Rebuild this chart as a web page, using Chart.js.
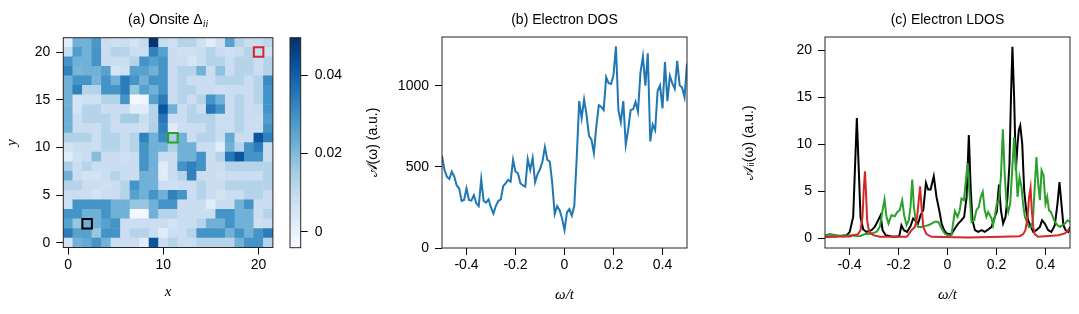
<!DOCTYPE html>
<html lang="pt-BR">
<head>
<meta charset="utf-8">
<title>Onsite, DOS e LDOS</title>
<script src="https://cdn.jsdelivr.net/npm/chart.js@4.4.1/dist/chart.umd.min.js"></script>
<style>
    html, body { margin: 0; padding: 0; background: #fff; }
    #painel { position: relative; width: 1079px; height: 314px; overflow: hidden; }
    #painel canvas { position: absolute; top: 0; }
</style>
</head>
<body>
<div id="painel">
    <canvas id="graficoMapa" width="285" height="314" style="left:0px"></canvas>
    <canvas id="graficoBarra" width="80" height="314" style="left:285px"></canvas>
    <canvas id="graficoDos" width="345" height="314" style="left:355px"></canvas>
    <canvas id="graficoLdos" width="344" height="314" style="left:735px"></canvas>
</div>
<script>
// (a) onsite values, one row per y, from y = 21 (top) down to y = 0
var onsiteLinhas = [
    [0.002, 0.022, 0.022, 0.028, 0.008, 0.007, 0.008, 0.006, 0.009, 0.049, 0.009, 0.007, 0.012, 0.012, 0.007, 0.002, 0.007, 0.026, 0.012, 0.008, 0.009, 0.011],
    [0.009, 0.027, 0.022, 0.029, 0.008, 0.012, 0.012, 0.008, 0.008, 0.033, 0.026, 0.008, 0.007, 0.007, 0.008, 0.012, 0.008, 0.007, 0.008, 0.012, 0.009, 0.007],
    [0.029, 0.022, 0.022, 0.029, 0.008, 0.008, 0.008, 0.012, 0.029, 0.026, 0.029, 0.008, 0.008, 0.005, 0.008, 0.012, 0.012, 0.008, 0.012, 0.012, 0.008, 0.012],
    [0.033, 0.021, 0.022, 0.022, 0.026, 0.005, 0.007, 0.026, 0.026, 0.022, 0.029, 0.008, 0.012, 0.012, 0.022, 0.008, 0.018, 0.008, 0.012, 0.012, 0.008, 0.012],
    [0.022, 0.029, 0.029, 0.021, 0.029, 0.022, 0.034, 0.029, 0.022, 0.029, 0.029, 0.008, 0.012, 0.008, 0.008, 0.008, 0.012, 0.012, 0.012, 0.008, 0.012, 0.031],
    [0.022, 0.033, 0.012, 0.012, 0.029, 0.029, 0.034, 0.017, 0.026, 0.022, 0.029, 0.008, 0.012, 0.012, 0.008, 0.008, 0.007, 0.008, 0.008, 0.008, 0.012, 0.029],
    [0.022, 0.006, 0.007, 0.007, 0.012, 0.012, 0.029, -0.003, -0.002, 0.026, 0.034, 0.008, 0.012, 0.008, 0.012, 0.029, 0.022, 0.008, 0.012, 0.008, 0.012, 0.029],
    [0.022, 0.006, 0.012, 0.012, 0.008, 0.008, 0.008, 0.002, 0.002, 0.012, 0.042, 0.022, 0.008, 0.012, 0.008, 0.035, 0.029, 0.008, 0.012, 0.008, 0.009, 0.029],
    [0.022, 0.008, 0.012, 0.012, 0.012, 0.008, 0.015, 0.015, 0.008, 0.012, 0.035, 0.008, 0.008, 0.012, 0.012, 0.012, 0.008, 0.008, 0.012, 0.008, 0.008, 0.027],
    [0.022, 0.008, 0.008, 0.008, 0.012, 0.008, 0.008, 0.008, 0.007, 0.013, 0.033, 0.002, 0.008, 0.008, 0.008, 0.012, 0.008, 0.008, 0.012, 0.008, 0.008, 0.029],
    [0.013, 0.013, 0.013, 0.008, 0.012, 0.012, 0.008, 0.012, 0.033, 0.022, 0.031, 0.014, 0.022, 0.008, 0.012, 0.012, 0.008, 0.024, 0.008, 0.008, 0.042, 0.033],
    [0.006, 0.008, 0.008, 0.008, 0.012, 0.012, 0.008, 0.012, 0.029, 0.022, 0.022, 0.013, 0.022, 0.022, 0.008, 0.008, 0.002, 0.022, 0.012, 0.029, 0.034, 0.008],
    [0.002, 0.007, 0.008, 0.019, 0.008, 0.008, 0.007, 0.008, 0.029, 0.022, 0.008, 0.008, 0.022, 0.022, 0.029, 0.008, 0.012, 0.035, 0.042, 0.029, 0.029, 0.008],
    [0.014, 0.008, 0.012, 0.008, 0.008, 0.008, 0.008, 0.008, 0.029, 0.022, 0.002, 0.008, 0.029, 0.033, 0.029, 0.008, 0.008, 0.012, 0.012, 0.012, 0.012, 0.012],
    [0.022, 0.008, 0.006, 0.006, 0.008, 0.012, 0.008, 0.008, 0.022, 0.022, 0.002, 0.008, 0.012, 0.033, 0.008, 0.008, 0.007, 0.008, 0.008, 0.008, 0.008, 0.012],
    [0.012, 0.012, 0.008, 0.008, 0.007, 0.008, 0.012, 0.029, 0.022, 0.022, 0.008, 0.007, 0.008, 0.008, 0.012, 0.008, 0.008, 0.012, 0.012, 0.012, 0.012, 0.012],
    [0.008, 0.008, 0.008, 0.006, 0.008, 0.008, 0.012, 0.026, 0.022, 0.029, 0.022, 0.033, 0.029, 0.008, 0.012, 0.008, 0.006, 0.008, 0.008, 0.012, 0.012, 0.008],
    [0.007, 0.029, 0.029, 0.029, 0.029, 0.022, 0.022, 0.017, 0.017, 0.022, 0.029, 0.029, 0.008, 0.008, 0.008, 0.002, 0.008, 0.008, 0.022, 0.029, 0.008, 0.008],
    [0.029, 0.029, 0.022, 0.022, 0.029, 0.022, 0.022, -0.003, -0.003, 0.022, 0.012, 0.012, 0.008, 0.008, 0.008, 0.008, 0.029, 0.029, 0.022, 0.022, 0.008, 0.012],
    [0.026, 0.017, 0.022, 0.022, 0.026, 0.029, 0.008, 0.008, 0.008, 0.008, 0.008, 0.006, 0.008, 0.008, 0.012, 0.022, 0.022, 0.029, 0.022, 0.022, 0.007, 0.008],
    [0.034, 0.026, 0.026, 0.017, 0.029, 0.029, 0.008, 0.012, 0.012, 0.008, 0.002, 0.008, 0.008, 0.012, 0.029, 0.029, 0.029, 0.022, 0.029, 0.022, 0.029, 0.034],
    [0.006, 0.022, 0.024, 0.029, 0.022, 0.008, 0.008, 0.008, 0.002, 0.042, 0.008, 0.012, 0.008, 0.008, 0.012, 0.012, 0.012, 0.012, 0.022, 0.029, 0.029, 0.012]
];
var sitiosX = [2, 11, 20];
var sitiosY = [2, 11, 20];
var coresSitios = ['#000000', '#2ca02c', '#d62728'];
var ticksMapaX = [0, 10, 20];
var ticksMapaY = [0, 5, 10, 15, 20];
var ticksBarra = [0, 0.02, 0.04];
var limitesCor = [-0.0041, 0.0497];
var coresBlues = ['#f7fbff', '#deebf7', '#c6dbef', '#9ecae1', '#6baed6', '#4292c6', '#2171b5', '#08519c', '#08306b'];

// (b) DOS
var omegaDos = [
    -0.50, -0.49, -0.48, -0.47, -0.46, -0.45, -0.44, -0.43, -0.42, -0.41,
    -0.40, -0.39, -0.38, -0.37, -0.36, -0.35, -0.34, -0.33, -0.32, -0.31,
    -0.30, -0.29, -0.28, -0.27, -0.26, -0.25, -0.24, -0.23, -0.22, -0.21,
    -0.20, -0.19, -0.18, -0.17, -0.16, -0.15, -0.14, -0.13, -0.12, -0.11,
    -0.10, -0.09, -0.08, -0.07, -0.06, -0.05, -0.04, -0.03, -0.02, -0.01,
    0.00, 0.01, 0.02, 0.03, 0.04, 0.05, 0.06, 0.07, 0.08, 0.09,
    0.10, 0.11, 0.12, 0.13, 0.14, 0.15, 0.16, 0.17, 0.18, 0.19,
    0.20, 0.21, 0.22, 0.23, 0.24, 0.25, 0.26, 0.27, 0.28, 0.29,
    0.30, 0.31, 0.32, 0.33, 0.34, 0.35, 0.36, 0.37, 0.38, 0.39,
    0.40, 0.41, 0.42, 0.43, 0.44, 0.45, 0.46, 0.47, 0.48, 0.49,
    0.50
];
var valoresDos = [
    568, 481, 440, 425, 470, 440, 385, 368, 290, 296,
    368, 296, 292, 326, 275, 258, 424, 290, 280, 300,
    250, 212, 260, 290, 300, 382, 399, 420, 409, 543,
    470, 461, 399, 385, 378, 548, 481, 555, 405, 455,
    485, 533, 622, 543, 533, 400, 209, 258, 233, 183,
    110, 220, 240, 200, 260, 560, 905, 800, 915, 820,
    690, 667, 585, 750, 880, 870, 850, 1053, 1015, 1010,
    1065, 1242, 850, 775, 905, 636, 729, 850, 855, 900,
    840, 1080, 1180, 1000, 1200, 657, 760, 725, 967, 1002,
    860, 1146, 905, 1060, 1014, 981, 1153, 1002, 988, 930,
    1137
];
var ticksOmega = [-0.4, -0.2, 0, 0.2, 0.4];
var ticksDos = [0, 500, 1000];

// (c) LDOS nos tres sitios marcados
var omegaPreto = [
    -0.5, -0.453, -0.412, -0.399, -0.385, -0.378, -0.370, -0.362, -0.355, -0.344,
    -0.331, -0.310, -0.297, -0.283, -0.273, -0.265, -0.252, -0.222, -0.197, -0.188,
    -0.178, -0.165, -0.151, -0.140, -0.129, -0.120, -0.110, -0.099, -0.088, -0.079,
    -0.069, -0.056, -0.045, -0.031, -0.024, -0.014, -0.004, 0.016, 0.030, 0.044,
    0.057, 0.068, 0.078, 0.087, 0.095, 0.102, 0.112, 0.125, 0.139, 0.152,
    0.166, 0.180, 0.193, 0.201, 0.210, 0.218, 0.227, 0.237, 0.245, 0.253,
    0.259, 0.265, 0.272, 0.279, 0.286, 0.291, 0.297, 0.305, 0.313, 0.321,
    0.329, 0.340, 0.350, 0.363, 0.377, 0.386, 0.397, 0.411, 0.424, 0.438,
    0.449, 0.457, 0.465, 0.473, 0.482, 0.493, 0.5
];
var ldosPreto = [
    0.14, 0.2, 0.3, 0.67, 2.27, 7.2, 12.8, 7.2, 2.27, 0.92,
    0.67, 0.85, 1.2, 1.9, 2.45, 0.85, 0.3, 0.14, 0.2, 1.38,
    0.85, 0.67, 1.28, 2.09, 1.84, 1.56, 2.45, 2.98, 5.89, 5.18,
    5.18, 6.6, 4.4, 2.62, 1.56, 0.85, 0.5, 0.43, 1.03, 1.56,
    1.91, 2.27, 4.4, 11.0, 5.1, 1.91, 0.85, 0.67, 0.85, 0.67,
    0.92, 1.2, 2.27, 2.8, 5.7, 2.98, 1.56, 2.27, 4.4, 7.94,
    15.0, 20.4, 15.0, 7.23, 10.07, 11.5, 12.0, 10.07, 5.1, 2.98,
    1.91, 1.2, 0.67, 0.85, 1.2, 1.91, 1.56, 0.85, 0.67, 1.38,
    3.69, 5.99, 3.69, 1.38, 0.85, 0.67, 1.2
];
var omegaVerde = [
    -0.5, -0.480, -0.453, -0.426, -0.399, -0.358, -0.337, -0.317, -0.290, -0.276,
    -0.265, -0.257, -0.249, -0.241, -0.229, -0.215, -0.205, -0.195, -0.185, -0.177,
    -0.167, -0.158, -0.151, -0.144, -0.137, -0.129, -0.120, -0.106, -0.093, -0.079,
    -0.065, -0.052, -0.038, -0.031, -0.024, -0.011, 0.003, 0.016, 0.030, 0.041,
    0.050, 0.057, 0.067, 0.075, 0.082, 0.090, 0.098, 0.109, 0.118, 0.128,
    0.136, 0.144, 0.152, 0.159, 0.166, 0.173, 0.180, 0.186, 0.193, 0.201,
    0.210, 0.218, 0.226, 0.234, 0.241, 0.248, 0.256, 0.264, 0.272, 0.279,
    0.286, 0.294, 0.302, 0.309, 0.316, 0.324, 0.332, 0.340, 0.348, 0.356,
    0.363, 0.370, 0.377, 0.384, 0.392, 0.400, 0.407, 0.414, 0.422, 0.430,
    0.438, 0.449, 0.459, 0.468, 0.479, 0.490, 0.5
];
var ldosVerde = [
    0.32, 0.43, 0.32, 0.21, 0.32, 0.21, 0.43, 0.43, 0.67, 1.2,
    2.98, 4.11, 2.27, 1.56, 2.45, 2.34, 2.8, 2.98, 4.04, 2.45,
    1.38, 1.91, 3.33, 6.24, 3.33, 1.74, 1.2, 1.2, 1.28, 1.38,
    1.56, 1.74, 1.74, 1.4, 1.03, 0.5, 0.25, 0.32, 2.87, 2.27,
    2.98, 4.22, 4.04, 6.17, 8.01, 4.75, 1.74, 1.91, 2.98, 3.33,
    4.4, 4.93, 2.98, 2.27, 2.8, 2.45, 2.09, 1.38, 2.27, 3.69,
    4.04, 6.52, 11.6, 6.52, 3.69, 2.8, 3.69, 7.23, 10.78, 7.94,
    4.4, 6.52, 5.46, 3.51, 2.27, 1.74, 1.2, 1.2, 1.74, 5.46,
    8.65, 5.82, 4.04, 7.23, 6.7, 3.69, 4.4, 2.98, 2.8, 2.27,
    1.74, 1.38, 1.2, 1.38, 1.56, 1.91, 1.74
];
var omegaVermelho = [
    -0.5, -0.399, -0.385, -0.365, -0.355, -0.347, -0.342, -0.337, -0.333, -0.328,
    -0.320, -0.303, -0.276, -0.167, -0.161, -0.147, -0.133, -0.124, -0.116, -0.112,
    -0.106, -0.099, -0.086, -0.065, 0.084, 0.220, 0.295, 0.309, 0.318, 0.327,
    0.333, 0.339, 0.344, 0.350, 0.356, 0.370, 0.452, 0.479, 0.5
];
var ldosVermelho = [
    0.14, 0.18, 0.32, 0.43, 0.85, 2.27, 5.1, 7.13, 5.1, 1.91,
    0.67, 0.32, 0.14, 0.14, 0.32, 0.85, 1.2, 2.27, 4.4, 5.53,
    3.33, 1.2, 0.43, 0.14, 0.07, 0.14, 0.21, 0.43, 0.85, 2.27,
    4.4, 5.39, 2.98, 1.2, 0.43, 0.14, 0.32, 0.5, 1.03
];
var ticksLdos = [0, 5, 10, 15, 20];

Chart.defaults.font.family = '"Liberation Sans", Arial, sans-serif';
Chart.defaults.font.size = 14;
Chart.defaults.color = '#000';

function corBlues(v) {
    var t = (v - limitesCor[0]) / (limitesCor[1] - limitesCor[0]);
    t = Math.min(1, Math.max(0, t)) * (coresBlues.length - 1);
    var i = Math.min(coresBlues.length - 2, Math.floor(t));
    var f = t - i;
    var a = hexParaRgb(coresBlues[i]), b = hexParaRgb(coresBlues[i + 1]);
    return 'rgb(' + Math.round(a[0] + (b[0] - a[0]) * f) + ',' +
        Math.round(a[1] + (b[1] - a[1]) * f) + ',' +
        Math.round(a[2] + (b[2] - a[2]) * f) + ')';
}

function hexParaRgb(h) {
    return [parseInt(h.substr(1, 2), 16), parseInt(h.substr(3, 2), 16), parseInt(h.substr(5, 2), 16)];
}

function pares(xs, ys) {
    return xs.map(function(x, i) { return { x: x, y: ys[i] }; });
}

function fixarTicks(valores) {
    return function(eixo) {
        eixo.ticks = valores.map(function(v) { return { value: v }; });
    };
}

function formatoOmega(v) {
    return v === 0 ? '0' : v.toFixed(1);
}

function formatoSimples(v) {
    return String(v);
}

function ladoCelula(ctx) {
    var s = ctx.chart.scales.x;
    return Math.abs(s.getPixelForValue(1) - s.getPixelForValue(0));
}

var pluginMoldura = {
    id: 'moldura',
    afterDraw: function(chart) {
        var a = chart.chartArea, ctx = chart.ctx;
        ctx.save();
        ctx.strokeStyle = '#262626';
        ctx.lineWidth = 1;
        ctx.strokeRect(a.left, a.top, a.right - a.left, a.bottom - a.top);
        ctx.restore();
    }
};

var pluginTitulo = {
    id: 'tituloPainel',
    afterDraw: function(chart, args, opcoes) {
        if (!opcoes.partes) return;
        var ctx = chart.ctx, a = chart.chartArea;
        var larguras = [], total = 0;
        ctx.save();
        opcoes.partes.forEach(function(p) {
            ctx.font = p.fonte;
            var w = ctx.measureText(p.texto).width;
            larguras.push(w);
            total += w;
        });
        var x = (a.left + a.right) / 2 - total / 2;
        ctx.fillStyle = '#000';
        ctx.textBaseline = 'alphabetic';
        opcoes.partes.forEach(function(p, i) {
            ctx.font = p.fonte;
            ctx.fillText(p.texto, x, opcoes.y + (p.dy || 0));
            x += larguras[i];
        });
        ctx.restore();
    }
};

Chart.register(pluginMoldura, pluginTitulo);

var gradeEixo = { drawOnChartArea: false, drawTicks: true, tickLength: 7, color: '#000', lineWidth: 1 };
var fonteTitulo = '14px "Liberation Sans", Arial, sans-serif';
var fonteMath = { family: '"Liberation Serif", serif', size: 15, style: 'italic' };

document.addEventListener('DOMContentLoaded', function() {
    // (a) mapa onsite
    var celulas = [];
    onsiteLinhas.forEach(function(linha, r) {
        var y = onsiteLinhas.length - 1 - r;
        linha.forEach(function(v, x) { celulas.push({ x: x, y: y, v: v }); });
    });

    new Chart(document.getElementById('graficoMapa'), {
        type: 'scatter',
        data: {
            datasets: [{
                data: pares(sitiosX, sitiosY),
                pointStyle: 'rect',
                backgroundColor: 'rgba(0,0,0,0)',
                borderColor: coresSitios,
                borderWidth: 2,
                pointRadius: function(ctx) { return ladoCelula(ctx) / Math.SQRT2; },
                order: 0
            }, {
                data: celulas,
                pointStyle: 'rect',
                borderWidth: 0,
                backgroundColor: function(ctx) { return corBlues(ctx.raw.v); },
                pointRadius: function(ctx) { return (ladoCelula(ctx) + 0.6) / Math.SQRT2; },
                clip: 0,
                order: 1
            }]
        },
        options: {
            responsive: false,
            animation: false,
            events: [],
            layout: { padding: { left: 0, right: 12.1, top: 37.7, bottom: 0 } },
            plugins: {
                legend: { display: false },
                tooltip: { enabled: false },
                tituloPainel: {
                    y: 24,
                    partes: [
                        { texto: '(a) Onsite Δ', fonte: fonteTitulo },
                        { texto: 'ii', fonte: 'italic 10px "Liberation Serif", serif', dy: 3 }
                    ]
                }
            },
            scales: {
                x: {
                    type: 'linear', min: -0.5, max: 21.5,
                    afterBuildTicks: fixarTicks(ticksMapaX),
                    afterFit: function(s) { s.height = 66.5; },
                    grid: gradeEixo,
                    border: { display: false },
                    ticks: { padding: 2, maxRotation: 0 },
                    title: { display: true, text: 'x', font: fonteMath, padding: { top: 0, bottom: 13 } }
                },
                y: {
                    type: 'linear', min: -0.5, max: 21.5,
                    afterBuildTicks: fixarTicks(ticksMapaY),
                    afterFit: function(s) { s.width = 63.3; },
                    grid: gradeEixo,
                    border: { display: false },
                    ticks: { padding: 6 },
                    title: { display: true, text: 'y', font: fonteMath, padding: { top: 3, bottom: 0 } }
                }
            }
        }
    });

    // barra de cores
    new Chart(document.getElementById('graficoBarra'), {
        type: 'bar',
        data: {
            labels: [''],
            datasets: [{
                data: [limitesCor],
                barPercentage: 1,
                categoryPercentage: 1,
                borderWidth: 0,
                backgroundColor: function(ctx) {
                    var area = ctx.chart.chartArea;
                    if (!area) return coresBlues[4];
                    var g = ctx.chart.ctx.createLinearGradient(0, area.bottom, 0, area.top);
                    coresBlues.forEach(function(c, i) { g.addColorStop(i / (coresBlues.length - 1), c); });
                    return g;
                }
            }]
        },
        options: {
            responsive: false,
            animation: false,
            events: [],
            layout: { padding: { left: 5, right: 0, top: 37.7, bottom: 66.3 } },
            plugins: { legend: { display: false }, tooltip: { enabled: false } },
            scales: {
                x: { display: false },
                y: {
                    position: 'right',
                    min: limitesCor[0], max: limitesCor[1],
                    afterBuildTicks: fixarTicks(ticksBarra),
                    afterFit: function(s) { s.width = 64.3; },
                    grid: gradeEixo,
                    border: { display: false },
                    ticks: {
                        padding: 7,
                        callback: function(v) { return v === 0 ? '0' : v.toFixed(2); }
                    }
                }
            }
        }
    });

    // (b) DOS
    new Chart(document.getElementById('graficoDos'), {
        type: 'line',
        data: {
            datasets: [{
                data: pares(omegaDos, valoresDos),
                borderColor: '#1f77b4',
                borderWidth: 2,
                pointRadius: 0,
                tension: 0,
                fill: false
            }]
        },
        options: {
            responsive: false,
            animation: false,
            events: [],
            layout: { padding: { left: 0, right: 13, top: 37, bottom: 0 } },
            plugins: {
                legend: { display: false },
                tooltip: { enabled: false },
                tituloPainel: { y: 24, partes: [{ texto: '(b) Electron DOS', fonte: fonteTitulo }] }
            },
            scales: {
                x: {
                    type: 'linear', min: -0.5, max: 0.5,
                    afterBuildTicks: fixarTicks(ticksOmega),
                    afterFit: function(s) { s.height = 66; },
                    grid: gradeEixo,
                    border: { display: false },
                    ticks: { padding: 2, maxRotation: 0, callback: formatoOmega },
                    title: { display: true, text: 'ω/t', font: fonteMath, padding: { top: 0, bottom: 10 } }
                },
                y: {
                    type: 'linear', min: 0, max: 1300,
                    afterBuildTicks: fixarTicks(ticksDos),
                    afterFit: function(s) { s.width = 87; },
                    grid: gradeEixo,
                    border: { display: false },
                    ticks: { padding: 6, callback: formatoSimples },
                    title: { display: true, text: '𝒜(ω) (a.u.)', font: { size: 14 }, padding: { top: 9.6, bottom: 0 } }
                }
            }
        }
    });

    // (c) LDOS
    new Chart(document.getElementById('graficoLdos'), {
        type: 'line',
        data: {
            datasets: [{
                data: pares(omegaPreto, ldosPreto),
                borderColor: '#000000',
                order: 3
            }, {
                data: pares(omegaVerde, ldosVerde),
                borderColor: '#2ca02c',
                order: 2
            }, {
                data: pares(omegaVermelho, ldosVermelho),
                borderColor: '#d62728',
                order: 1
            }]
        },
        options: {
            responsive: false,
            animation: false,
            events: [],
            elements: {
                line: { borderWidth: 2, tension: 0, fill: false },
                point: { radius: 0 }
            },
            layout: { padding: { left: 0, right: 9, top: 37, bottom: 0 } },
            plugins: {
                legend: { display: false },
                tooltip: { enabled: false },
                tituloPainel: { y: 24, partes: [{ texto: '(c) Electron LDOS', fonte: fonteTitulo }] }
            },
            scales: {
                x: {
                    type: 'linear', min: -0.5, max: 0.5,
                    afterBuildTicks: fixarTicks(ticksOmega),
                    afterFit: function(s) { s.height = 66; },
                    grid: gradeEixo,
                    border: { display: false },
                    ticks: { padding: 2, maxRotation: 0, callback: formatoOmega },
                    title: { display: true, text: 'ω/t', font: fonteMath, padding: { top: 0, bottom: 10 } }
                },
                y: {
                    type: 'linear', min: -1.05, max: 21.45,
                    afterBuildTicks: fixarTicks(ticksLdos),
                    afterFit: function(s) { s.width = 90; },
                    grid: gradeEixo,
                    border: { display: false },
                    ticks: { padding: 6, callback: formatoSimples },
                    title: { display: true, text: '𝒜ᵢᵢ(ω) (a.u.)', font: { size: 14 }, padding: { top: 5.6, bottom: 0 } }
                }
            }
        }
    });
});
</script>
</body>
</html>
